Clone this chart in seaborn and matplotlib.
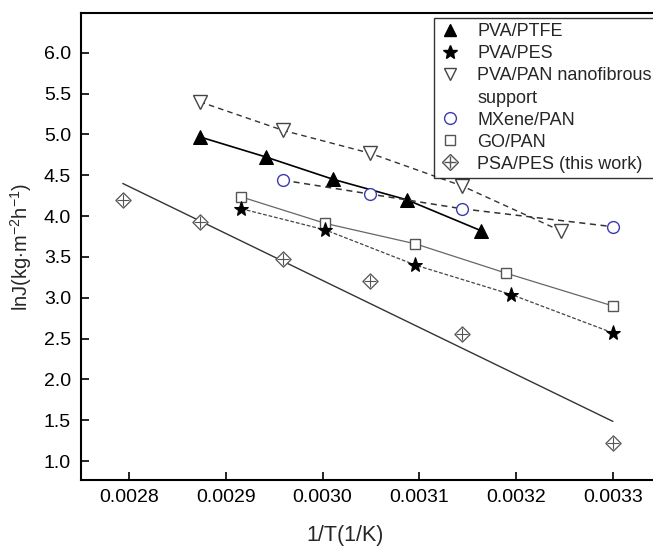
import numpy as np
import pandas as pd
import matplotlib
matplotlib.use("Agg")
import matplotlib.pyplot as plt
import seaborn as sns
from matplotlib.lines import Line2D
from matplotlib.legend_handler import HandlerTuple

# ---- data ----
ptfe_x = [0.002873, 0.002941, 0.003011, 0.003087, 0.003164]
ptfe_y = [4.97, 4.725, 4.45, 4.20, 3.82]

pes_x = [0.002916, 0.003003, 0.003096, 0.003195, 0.003300]
pes_y = [4.09, 3.83, 3.40, 3.04, 2.57]

pan_x = [0.002873, 0.002959, 0.003049, 0.003144, 0.003246]
pan_y = [5.40, 5.05, 4.77, 4.37, 3.82]

mx_x = [0.002959, 0.003049, 0.003144, 0.003300]
mx_y = [4.44, 4.27, 4.09, 3.87]

go_x = [0.002916, 0.003003, 0.003096, 0.003190, 0.003300]
go_y = [4.235, 3.91, 3.66, 3.30, 2.90]

psa_x = [0.0027935, 0.002873, 0.002959, 0.003049, 0.003144, 0.003300]
psa_y = [4.20, 3.93, 3.48, 3.20, 2.56, 1.22]

x_ticks = [0.0028, 0.0029, 0.0030, 0.0031, 0.0032, 0.0033]
y_ticks = [1.0, 1.5, 2.0, 2.5, 3.0, 3.5, 4.0, 4.5, 5.0, 5.5, 6.0]

labels = ["PVA/PTFE", "PVA/PES", "PVA/PAN nanofibrous", "support",
          "MXene/PAN", "GO/PAN", "PSA/PES (this work)"]

sns.set_style("ticks")
plt.rcParams["font.family"] = ["Liberation Sans", "DejaVu Sans"]
plt.rcParams["mathtext.fontset"] = "custom"
plt.rcParams["mathtext.rm"] = "Liberation Sans"
plt.rcParams["mathtext.it"] = "Liberation Sans:italic"

fig = plt.figure(figsize=(6.53, 5.47), dpi=100)
ax = fig.add_axes([0.1236, 0.1216, 0.889, 0.8541])

blue = "#3b3bb0"
gray = "#555555"

def df(x, y):
    return pd.DataFrame({"x": x, "y": y})

# PVA/PAN nanofibrous support
sns.lineplot(data=df(pan_x, pan_y), x="x", y="y", ax=ax, estimator=None, sort=False,
             color="#333333", lw=1.0, linestyle=(0, (4, 3)), marker="v", markersize=9.5,
             markerfacecolor="white", markeredgecolor="#444444", markeredgewidth=1.0)
# PVA/PTFE
sns.lineplot(data=df(ptfe_x, ptfe_y), x="x", y="y", ax=ax, estimator=None, sort=False,
             color="black", lw=1.2, marker="^", markersize=9.5,
             markerfacecolor="black", markeredgecolor="black")
# MXene/PAN
sns.lineplot(data=df(mx_x, mx_y), x="x", y="y", ax=ax, estimator=None, sort=False,
             color="#333333", lw=1.1, linestyle=(0, (4, 3)), marker="o", markersize=8.5,
             markerfacecolor="white", markeredgecolor=blue, markeredgewidth=1.0)
# GO/PAN
sns.lineplot(data=df(go_x, go_y), x="x", y="y", ax=ax, estimator=None, sort=False,
             color="#666666", lw=0.9, marker="s", markersize=7.5,
             markerfacecolor="white", markeredgecolor=gray, markeredgewidth=1.0)
# PVA/PES
sns.lineplot(data=df(pes_x, pes_y), x="x", y="y", ax=ax, estimator=None, sort=False,
             color="#444444", lw=0.9, linestyle=(0, (3, 1.5)), marker="*", markersize=11,
             markerfacecolor="black", markeredgecolor="black")
# PSA/PES (this work) with linear fit
sns.regplot(data=df(psa_x, psa_y), x="x", y="y", ax=ax, ci=None, scatter=False,
            truncate=True, line_kws=dict(color="#333333", lw=1.0))
sns.scatterplot(data=df(psa_x, psa_y), x="x", y="y", ax=ax, marker="D", s=60,
                facecolor="white", edgecolor=gray, linewidth=0.9, zorder=5)
sns.scatterplot(data=df(psa_x, psa_y), x="x", y="y", ax=ax, marker="+", s=75,
                color=gray, linewidth=0.8, zorder=6)

ax.set_xlim(0.00275, 0.00335)
ax.set_ylim(0.763, 6.483)
ax.set_xticks(x_ticks)
ax.set_xticklabels([f"{v:.4f}" for v in x_ticks])
ax.set_yticks(y_ticks)
ax.set_yticklabels([f"{v:.1f}" for v in y_ticks])
ax.tick_params(direction="in", length=6, width=1.2, labelsize=14, colors="black")
ax.tick_params(axis="x", pad=6)
ax.tick_params(axis="y", pad=7)
for s in ax.spines.values():
    s.set_linewidth(1.5)
    s.set_color("black")

ax.set_xlabel("1/T(1/K)", fontsize=15.5)
ax.set_ylabel(r"lnJ(kg$\cdot$m$^{-2}$h$^{-1}$)", fontsize=14.5)
ax.xaxis.set_label_coords(0.455, -0.095)
ax.yaxis.set_label_coords(-0.080, 0.5)

# legend
h_ptfe = Line2D([], [], ls="none", marker="^", ms=9, mfc="black", mec="black")
h_pes = Line2D([], [], ls="none", marker="*", ms=10, mfc="black", mec="black")
h_pan = Line2D([], [], ls="none", marker="v", ms=9, mfc="white", mec="#444444")
h_blank = Line2D([], [], ls="none", marker=None)
h_mx = Line2D([], [], ls="none", marker="o", ms=8.5, mfc="white", mec=blue)
h_go = Line2D([], [], ls="none", marker="s", ms=7, mfc="white", mec=gray)
h_d = Line2D([], [], ls="none", marker="D", ms=8, mfc="white", mec=gray)
h_p = Line2D([], [], ls="none", marker="+", ms=8.5, mec=gray)
leg = ax.legend([h_ptfe, h_pes, h_pan, h_blank, h_mx, h_go, (h_d, h_p)], labels,
                handler_map={tuple: HandlerTuple(ndivide=1, pad=0)},
                loc="upper left", bbox_to_anchor=(0.6086, 0.99), borderaxespad=0,
                fontsize=13, frameon=True, fancybox=False, edgecolor="black",
                handlelength=1.2, handletextpad=0.9, labelspacing=0.28,
                borderpad=0.3)
leg.get_frame().set_linewidth(1.0)

fig.savefig("out.png", dpi=100)
